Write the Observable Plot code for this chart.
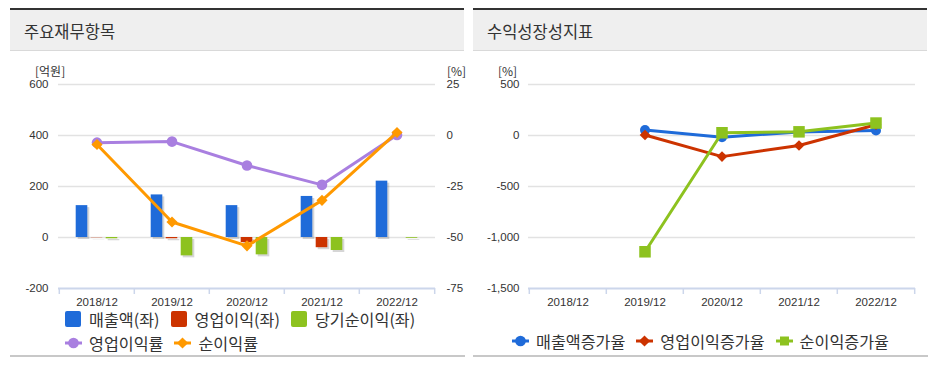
<!DOCTYPE html>
<html><head><meta charset="utf-8">
<script src="https://cdn.jsdelivr.net/npm/d3@7"></script>
<script src="https://cdn.jsdelivr.net/npm/@observablehq/plot@0.6"></script>
<style>
body{margin:0;background:#fff;}
#root{position:relative;width:933px;height:365px;overflow:hidden;font-family:"Noto Sans CJK KR","Noto Sans",sans-serif;color:#333;}
.panel{position:absolute;top:0;width:455px;height:365px;}
.hdr{position:absolute;left:0;top:8px;width:440px;height:40px;padding-left:14px;border-top:2px solid #333;border-bottom:1px solid #d9d9d9;background:#efefef;font-size:16.5px;line-height:42px;color:#333;}
.unit{position:absolute;top:63px;font-size:12px;line-height:16px;color:#333;}
.chart{position:absolute;left:0;top:55px;}
.foot{position:absolute;left:0;top:355px;width:455px;height:2px;background:#c8c8c8;}
.legend{position:absolute;font-size:16.2px;line-height:24px;color:#333;}
.row{display:flex;align-items:center;height:24px;white-space:nowrap;}
.item{display:flex;align-items:center;margin-right:11px;height:24px;}
.item span{display:block;height:24px;line-height:24px;}
.sw{width:16px;height:16px;border-radius:2px;margin-right:8px;}
.icon{margin-right:7px;display:block;}
</style>
</head><body>
<div id="root">
  <div class="panel" id="pl" style="left:10px">
    <div class="hdr">주요재무항목</div>
    <div class="unit" style="left:25px">[억원]</div>
    <div class="unit" style="left:437px">[%]</div>
    <div class="chart" id="chartL"></div>
    <div class="legend" id="legL" style="left:55px;top:307px"></div>
    <div class="foot"></div>
  </div>
  <div class="panel" id="pr" style="left:473px">
    <div class="hdr">수익성장성지표</div>
    <div class="unit" style="left:25px">[%]</div>
    <div class="chart" id="chartR"></div>
    <div class="legend" id="legR" style="left:39px;top:329px"></div>
    <div class="foot"></div>
  </div>
</div>
<script>
// ---------- data ----------
const years = ["2018/12", "2019/12", "2020/12", "2021/12", "2022/12"];
// 주요재무항목 (억원, left axis)
const sales     = [125, 167, 125, 161, 221];
const opIncome  = [-1, -5, -20, -40, 0];
const netIncome = [-5, -72, -68, -51, -3];
// 주요재무항목 (%, right axis)
const opMargin  = [-3.5, -3.0, -14.7, -24.2, 0.3];
const netMargin = [-4.4, -42.4, -54.1, -31.8, 1.5];
// 수익성장성지표 (%)
const salesGrowth = [null, 53, -16, 35, 49];
const opGrowth    = [null, 5, -207, -98, 105];
const netGrowth   = [null, -1140, 27, 36, 122];
// axes
const leftTicks  = [-200, 0, 200, 400, 600];
const rightTicks = [-75, -50, -25, 0, 25];
const growthTicks = [-1500, -1000, -500, 0, 500];
// names
const barNames  = ["매출액(좌)", "영업이익(좌)", "당기순이익(좌)"];
const lineNames = ["영업이익률", "순이익률"];
const growthNames = ["매출액증가율", "영업이익증가율", "순이익증가율"];

// ---------- styles ----------
const C = {blue: "#1f6bd9", red: "#cc3300", green: "#8dc21f", purple: "#a97fe0", orange: "#ff9900"};
const barColors = [C.blue, C.red, C.green];
const lineColors = [C.purple, C.orange];
const lineSymbols = ["circle", "diamond2"];
const growthColors = [C.blue, C.red, C.green];
const growthSymbols = ["circle", "diamond2", "square"];
const growthR = [5, 4.8, 6.5];

const fmt = d => d.toLocaleString("en-US");
const W = 455, H = 250;
const axisColor = "#ccd6eb", gridColor = "#e2e2e2";
const font = {fontFamily: "'Liberation Sans', Arial, sans-serif", fontSize: "11.5px", color: "#333", background: "transparent", overflow: "visible"};

// ---------- left chart ----------
{
  const ml = 48, mr = 30, mt = 29, mb = 17;
  const step = (W - ml - mr) / years.length;
  const barW = 12, gap = 3;
  const inset = (step - barW) / 2;
  const [l0, l1] = [leftTicks[0], leftTicks[leftTicks.length - 1]];
  const [r0, r1] = [rightTicks[0], rightTicks[rightTicks.length - 1]];
  const toLeft = p => l0 + (p - r0) * (l1 - l0) / (r1 - r0);
  const toRight = v => r0 + (v - l0) * (r1 - r0) / (l1 - l0);

  const barSets = [sales, opIncome, netIncome];
  const marks = [
    Plot.ruleY(leftTicks.slice(1), {stroke: gridColor, strokeWidth: 1.5}),
  ];
  barSets.forEach((vals, k) => {
    const data = years.map((y, i) => ({year: y, v: vals[i]}));
    const dx = (k - 1) * (barW + gap);
    marks.push(Plot.barY(data, {x: "year", y: "v", insetLeft: inset, insetRight: inset, dx: dx + 2, dy: 2, fill: "#000", fillOpacity: 0.16}));
    marks.push(Plot.barY(data, {x: "year", y: "v", insetLeft: inset, insetRight: inset, dx, fill: barColors[k]}));
  });
  marks.push(
    Plot.ruleY([l0], {stroke: axisColor, strokeWidth: 2}),
    Plot.ruleX(years, {x: d => d, y1: l0, y2: l0, insetBottom: -6, dx: -step / 2, stroke: axisColor, strokeWidth: 1.5}),
    Plot.ruleX(years.slice(-1), {x: d => d, y1: l0, y2: l0, insetBottom: -6, dx: step / 2, stroke: axisColor, strokeWidth: 1.5})
  );
  [opMargin, netMargin].forEach((vals, k) => {
    const data = years.map((y, i) => ({year: y, v: toLeft(vals[i])}));
    marks.push(Plot.lineY(data, {x: "year", y: "v", stroke: lineColors[k], strokeWidth: 3}));
    marks.push(Plot.dot(data, {x: "year", y: "v", symbol: lineSymbols[k], r: k === 0 ? 5.3 : 5, fill: lineColors[k], stroke: "none"}));
  });
  marks.push(
    Plot.axisY({anchor: "left", ticks: leftTicks, tickSize: 0, tickPadding: 10, tickFormat: fmt, label: null}),
    Plot.axisY({anchor: "right", ticks: leftTicks, tickSize: 0, tickPadding: 11, tickFormat: d => fmt(Math.round(toRight(d))), label: null}),
    Plot.axisX({tickSize: 0, tickPadding: 9, label: null})
  );
  const chart = Plot.plot({
    width: W, height: H, marginLeft: ml, marginRight: mr, marginTop: mt, marginBottom: mb,
    style: font,
    x: {type: "band", domain: years, padding: 0},
    y: {domain: [l0, l1]},
    marks
  });
  document.getElementById("chartL").appendChild(chart);
}

// ---------- right chart ----------
{
  const ml = 55, mr = 13, mt = 29, mb = 17;
  const step = (W - ml - mr) / years.length;
  const [g0, g1] = [growthTicks[0], growthTicks[growthTicks.length - 1]];
  const marks = [
    Plot.ruleY(growthTicks.slice(1), {stroke: gridColor, strokeWidth: 1.5}),
    Plot.ruleY([g0], {stroke: axisColor, strokeWidth: 2}),
    Plot.ruleX(years, {x: d => d, y1: g0, y2: g0, insetBottom: -6, dx: -step / 2, stroke: axisColor, strokeWidth: 1.5}),
    Plot.ruleX(years.slice(-1), {x: d => d, y1: g0, y2: g0, insetBottom: -6, dx: step / 2, stroke: axisColor, strokeWidth: 1.5})
  ];
  [salesGrowth, opGrowth, netGrowth].forEach((vals, k) => {
    const data = years.map((y, i) => ({year: y, v: vals[i]})).filter(d => d.v != null);
    marks.push(Plot.lineY(data, {x: "year", y: "v", stroke: growthColors[k], strokeWidth: 3}));
    marks.push(Plot.dot(data, {x: "year", y: "v", symbol: growthSymbols[k], r: growthR[k], fill: growthColors[k], stroke: "none"}));
  });
  marks.push(
    Plot.axisY({anchor: "left", ticks: growthTicks, tickSize: 0, tickPadding: 9, tickFormat: fmt, label: null}),
    Plot.axisX({tickSize: 0, tickPadding: 9, label: null})
  );
  const chart = Plot.plot({
    width: W, height: H, marginLeft: ml, marginRight: mr, marginTop: mt, marginBottom: mb,
    style: font,
    x: {type: "band", domain: years, padding: 0},
    y: {domain: [g0, g1]},
    marks
  });
  document.getElementById("chartR").appendChild(chart);
}

// ---------- legends ----------
function icon(color, symbol) {
  const ns = "http://www.w3.org/2000/svg";
  const svg = document.createElementNS(ns, "svg");
  svg.setAttribute("width", 17); svg.setAttribute("height", 14);
  svg.setAttribute("class", "icon");
  const line = document.createElementNS(ns, "line");
  line.setAttribute("x1", 0); line.setAttribute("x2", 17); line.setAttribute("y1", 7); line.setAttribute("y2", 7);
  line.setAttribute("stroke", color); line.setAttribute("stroke-width", 3);
  svg.appendChild(line);
  const sym = {circle: d3.symbolCircle, diamond2: d3.symbolDiamond2, square: d3.symbolSquare}[symbol];
  const size = symbol === "square" ? 81 : symbol === "circle" ? 90 : 80;
  const p = document.createElementNS(ns, "path");
  p.setAttribute("d", d3.symbol(sym, size)());
  p.setAttribute("transform", "translate(8.5,7)");
  p.setAttribute("fill", color);
  svg.appendChild(p);
  return svg;
}
function item(label, marker) {
  const it = document.createElement("div"); it.className = "item";
  it.appendChild(marker);
  const t = document.createElement("span"); t.textContent = label; it.appendChild(t);
  return it;
}
function swatch(color) {
  const s = document.createElement("div"); s.className = "sw"; s.style.background = color; return s;
}
{
  const leg = document.getElementById("legL");
  const r1 = document.createElement("div"); r1.className = "row";
  barNames.forEach((n, k) => r1.appendChild(item(n, swatch(barColors[k]))));
  const r2 = document.createElement("div"); r2.className = "row";
  lineNames.forEach((n, k) => r2.appendChild(item(n, icon(lineColors[k], lineSymbols[k]))));
  leg.appendChild(r1); leg.appendChild(r2);
}
{
  const leg = document.getElementById("legR");
  const r = document.createElement("div"); r.className = "row";
  growthNames.forEach((n, k) => r.appendChild(item(n, icon(growthColors[k], growthSymbols[k]))));
  leg.appendChild(r);
}
</script>
</body></html>
